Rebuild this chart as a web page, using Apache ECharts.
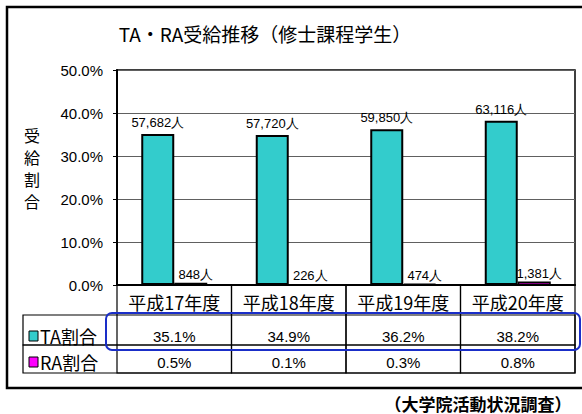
<!DOCTYPE html>
<html><head><meta charset="utf-8">
<script src="https://cdn.jsdelivr.net/npm/echarts@6/dist/echarts.min.js"></script>
<style>html,body{margin:0;padding:0;background:#fff}#c{width:582px;height:414px}</style>
</head><body><div id="c"></div>
<script>
const categories = ['平成17年度', '平成18年度', '平成19年度', '平成20年度'];
const taRate = [35.1, 34.9, 36.2, 38.2];
const raRate = [0.5, 0.1, 0.3, 0.8];
const taCount = [57682, 57720, 59850, 63116];
const raCount = [848, 226, 474, 1381];
const yTicks = [0, 10, 20, 30, 40, 50];

const W = 582, H = 414;
const G = { left: 117, top: 70, right: 7, bottom: 129 };
const axisY = H - G.bottom;           // 285
const gridR = W - G.right;            // 575
const rowTA = 315, rowRA = 345, rowEnd = 373, tblLeft = 23;
const JP = '"Noto Sans CJK JP", "Noto Sans", sans-serif';
const LAT = '"Liberation Sans", Arial, sans-serif';
const TEAL = '#33CCCC', MAG = '#FF00FF';

const fmtCount = n => n.toLocaleString('en-US') + '人';
const fmtPct = v => v.toFixed(1) + '%';

const colW = (gridR - G.left) / categories.length;
const colRects = categories.map((c, i) => ({
  type: 'rect', silent: true, z: 50,
  shape: { x: G.left + i * colW, y: axisY, width: colW, height: rowEnd - axisY },
  style: { fill: 'none', stroke: '#000', lineWidth: 1.2 }
}));

const chart = echarts.init(document.getElementById('c'), null, { renderer: 'svg' });
chart.setOption({
  animation: false,
  backgroundColor: '#fff',
  textStyle: { fontFamily: JP },
  grid: { left: G.left, top: G.top, right: G.right, bottom: G.bottom, show: true, borderColor: '#000', borderWidth: 1.5 },
  xAxis: {
    type: 'category', data: categories,
    axisLine: { lineStyle: { color: '#000', width: 2 } },
    axisTick: { show: false },
    axisLabel: {
      margin: 0, verticalAlign: 'top', interval: 0,
      formatter: (v, i) => '{h|' + v + '}\n{t|' + fmtPct(taRate[i]) + '}\n{r|' + fmtPct(raRate[i]) + '}',
      rich: {
        h: { fontSize: 18, lineHeight: 34, color: '#000', fontFamily: JP },
        t: { fontSize: 15, lineHeight: 34, color: '#000', fontFamily: LAT },
        r: { fontSize: 15, lineHeight: 18, color: '#000', fontFamily: LAT }
      }
    }
  },
  yAxis: {
    type: 'value', min: 0, max: 50, interval: 10,
    axisLine: { show: true, lineStyle: { color: '#000', width: 2 } },
    axisTick: { show: true, length: 4, lineStyle: { color: '#000' } },
    splitLine: { show: true, lineStyle: { color: '#606060', width: 1 } },
    axisLabel: {
      margin: 14, fontSize: 15, color: '#000', padding: [7, 0, 0, 0],
      fontFamily: LAT,
      formatter: v => fmtPct(v)
    }
  },
  series: [
    {
      name: 'TA割合', type: 'bar', data: taRate, barWidth: 33, barGap: '0%',
      itemStyle: { color: TEAL, borderColor: '#000', borderWidth: 2 },
      label: { show: true, position: 'top', distance: 5, fontSize: 13, color: '#000',
        fontFamily: LAT,
        formatter: p => fmtCount(taCount[p.dataIndex]) }
    },
    {
      name: 'RA割合', type: 'bar', data: raRate, barWidth: 33,
      itemStyle: { color: MAG, borderColor: '#000', borderWidth: 1.5 },
      label: { show: true, position: 'top', distance: 2, fontSize: 13, color: '#000',
        fontFamily: LAT, offset: [5, 0],
        formatter: p => fmtCount(raCount[p.dataIndex]) }
    }
  ],
  graphic: [
    { type: 'rect', shape: { x: 7, y: 7, width: W, height: 381 }, style: { fill: 'none', stroke: '#000', lineWidth: 2.5 }, z: 0, silent: true },
    { type: 'text', x: 265, y: 33, style: { text: 'TA・RA受給推移（修士課程学生）', font: '19px ' + JP, fill: '#000', textAlign: 'center', textVerticalAlign: 'middle' } },
    { type: 'text', x: 32, y: 124, style: { text: '受\n給\n割\n合', font: '16px ' + JP, lineHeight: 22, fill: '#000', textAlign: 'center' } },
    // table rows
    { type: 'rect', silent: true, z: 50, shape: { x: tblLeft, y: rowTA, width: gridR - tblLeft, height: rowRA - rowTA }, style: { fill: 'none', stroke: '#000', lineWidth: 1.2 } },
    { type: 'rect', silent: true, z: 50, shape: { x: tblLeft, y: rowRA, width: gridR - tblLeft, height: rowEnd - rowRA }, style: { fill: 'none', stroke: '#000', lineWidth: 1.2 } },
    ...colRects,
    // legend keys
    { type: 'rect', shape: { x: 29, y: 331, width: 9, height: 10 }, style: { fill: TEAL, stroke: '#000', lineWidth: 1 } },
    { type: 'text', x: 40, y: 336, style: { text: 'TA割合', font: '18px ' + JP, fill: '#000', textVerticalAlign: 'middle' } },
    { type: 'rect', shape: { x: 29, y: 357, width: 9, height: 10 }, style: { fill: MAG, stroke: '#000', lineWidth: 1 } },
    { type: 'text', x: 40, y: 362, style: { text: 'RA割合', font: '18px ' + JP, fill: '#000', textVerticalAlign: 'middle' } },
    // highlight box
    { type: 'rect', silent: true, shape: { x: 106, y: 313, width: 474, height: 37, r: 6 }, style: { fill: 'none', stroke: '#1a2ec8', lineWidth: 2 }, z: 100 },
    // footer
    { type: 'text', x: 478, y: 403, style: { text: '（大学院活動状況調査）', font: 'bold 17px ' + JP, fill: '#000', textAlign: 'center', textVerticalAlign: 'middle' } }
  ]
});
</script></body></html>
